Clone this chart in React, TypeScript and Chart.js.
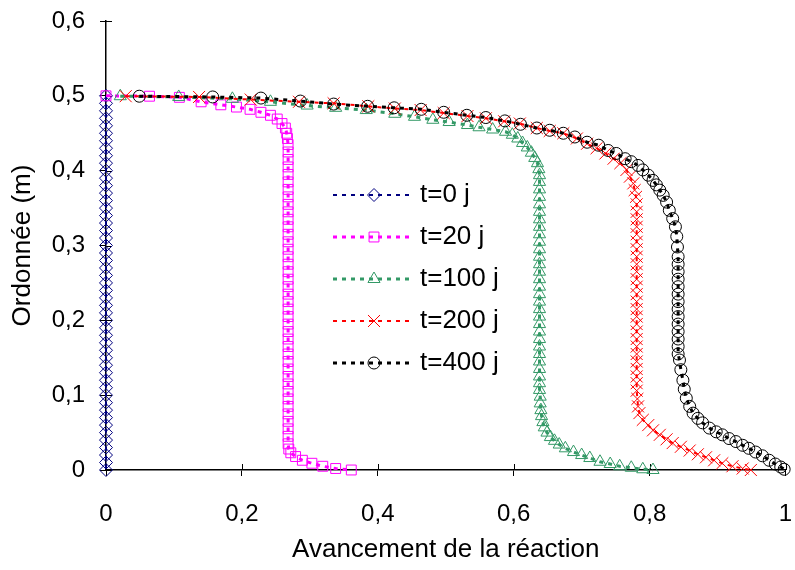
import React, { useEffect, useRef } from 'react';
import { Chart, registerables } from 'chart.js';
import { drawPoint } from 'chart.js/helpers';

Chart.register(...registerables);

// ---------- DATA ----------
const xTickLabels = ['0', '0,2', '0,4', '0,6', '0,8', '1'];
const yTickLabels = ['0', '0,1', '0,2', '0,3', '0,4', '0,5', '0,6'];
const seriesLabels = ['t=0 j', 't=20 j', 't=100 j', 't=200 j', 't=400 j'];
const xTitle = 'Avancement de la réaction';
const yTitle = 'Ordonnée (m)';

const t0Points: number[][] = [
  [0, 0.5], [0, 0.49], [0, 0.48], [0, 0.47], [0, 0.46], [0, 0.45], [0, 0.44], [0, 0.43], [0, 0.42], [0, 0.41],
  [0, 0.4], [0, 0.39], [0, 0.38], [0, 0.37], [0, 0.36], [0, 0.35], [0, 0.34], [0, 0.33], [0, 0.32], [0, 0.31],
  [0, 0.3], [0, 0.29], [0, 0.28], [0, 0.27], [0, 0.26], [0, 0.25], [0, 0.24], [0, 0.23], [0, 0.22], [0, 0.21],
  [0, 0.2], [0, 0.19], [0, 0.18], [0, 0.17], [0, 0.16], [0, 0.15], [0, 0.14], [0, 0.13], [0, 0.12], [0, 0.11],
  [0, 0.1], [0, 0.09], [0, 0.08], [0, 0.07], [0, 0.06], [0, 0.05], [0, 0.04], [0, 0.03], [0, 0.02], [0, 0.01],
  [0, 0],
];

const t20Points: number[][] = [
  [0, 0.5], [0.064, 0.4995], [0.108, 0.498], [0.14, 0.492], [0.169, 0.488], [0.192, 0.485], [0.212, 0.482],
  [0.228, 0.478], [0.242, 0.474], [0.252, 0.469], [0.259, 0.463], [0.264, 0.457], [0.266, 0.45], [0.267, 0.443],
  [0.268, 0.435], [0.268, 0.425], [0.268, 0.415], [0.268, 0.405], [0.268, 0.395], [0.268, 0.385], [0.268, 0.375],
  [0.268, 0.365], [0.268, 0.355], [0.268, 0.345], [0.268, 0.335], [0.268, 0.325], [0.268, 0.315], [0.268, 0.305],
  [0.268, 0.295], [0.268, 0.285], [0.268, 0.275], [0.268, 0.265], [0.268, 0.255], [0.268, 0.245], [0.268, 0.235],
  [0.268, 0.225], [0.268, 0.215], [0.268, 0.205], [0.268, 0.195], [0.268, 0.185], [0.268, 0.175], [0.268, 0.165],
  [0.268, 0.155], [0.268, 0.145], [0.268, 0.135], [0.268, 0.125], [0.268, 0.115], [0.268, 0.105], [0.268, 0.095],
  [0.268, 0.085], [0.268, 0.075], [0.268, 0.065], [0.268, 0.055], [0.268, 0.045], [0.268, 0.035],
  [0.269, 0.028], [0.272, 0.023], [0.279, 0.018], [0.289, 0.013], [0.303, 0.009], [0.319, 0.005], [0.338, 0.002],
  [0.361, 0],
];

const t100Points: number[][] = [
  [0.021, 0.4995], [0.107, 0.4985], [0.186, 0.496], [0.242, 0.492], [0.296, 0.487], [0.338, 0.484], [0.383, 0.481],
  [0.425, 0.476], [0.454, 0.472], [0.481, 0.468], [0.505, 0.465], [0.532, 0.461], [0.549, 0.458], [0.569, 0.455],
  [0.588, 0.452], [0.598, 0.448], [0.606, 0.443], [0.613, 0.437], [0.62, 0.431], [0.626, 0.424], [0.631, 0.417],
  [0.635, 0.41], [0.637, 0.402], [0.638, 0.394],
  [0.638, 0.385], [0.638, 0.375], [0.638, 0.365], [0.638, 0.355], [0.638, 0.345], [0.638, 0.335], [0.638, 0.325],
  [0.638, 0.315], [0.638, 0.305], [0.638, 0.295], [0.638, 0.285], [0.638, 0.275], [0.638, 0.265], [0.638, 0.255],
  [0.638, 0.245], [0.638, 0.235], [0.638, 0.225], [0.638, 0.215], [0.638, 0.205], [0.638, 0.195], [0.638, 0.185],
  [0.638, 0.175], [0.638, 0.165], [0.638, 0.155], [0.638, 0.145], [0.638, 0.135], [0.638, 0.125],
  [0.638, 0.116], [0.638, 0.107], [0.639, 0.098], [0.639, 0.089], [0.64, 0.08], [0.641, 0.072], [0.643, 0.064],
  [0.645, 0.057], [0.649, 0.05], [0.654, 0.044], [0.66, 0.039], [0.667, 0.034], [0.676, 0.029], [0.688, 0.024],
  [0.7, 0.02], [0.712, 0.016], [0.727, 0.011], [0.742, 0.008], [0.756, 0.005], [0.773, 0.003], [0.79, 0.001],
  [0.805, 0],
];

const t200Points: number[][] = [
  [0.029, 0.4995], [0.137, 0.4985], [0.213, 0.495], [0.284, 0.492], [0.335, 0.49], [0.386, 0.486], [0.425, 0.483],
  [0.463, 0.481], [0.497, 0.477], [0.532, 0.473], [0.559, 0.47], [0.586, 0.466], [0.609, 0.463], [0.634, 0.457],
  [0.653, 0.453], [0.673, 0.45], [0.693, 0.443], [0.708, 0.436], [0.722, 0.43], [0.735, 0.423], [0.747, 0.416],
  [0.757, 0.41], [0.766, 0.401], [0.771, 0.392], [0.776, 0.383], [0.778, 0.374], [0.78, 0.365],
  [0.781, 0.355], [0.781, 0.345], [0.781, 0.335], [0.781, 0.325], [0.781, 0.315], [0.781, 0.305], [0.781, 0.295],
  [0.781, 0.285], [0.781, 0.275], [0.781, 0.265], [0.781, 0.255], [0.781, 0.245], [0.781, 0.235], [0.781, 0.225],
  [0.781, 0.215], [0.781, 0.205], [0.781, 0.195], [0.781, 0.185], [0.781, 0.175], [0.781, 0.165], [0.781, 0.155],
  [0.781, 0.145], [0.781, 0.135], [0.781, 0.125],
  [0.781, 0.116], [0.781, 0.106], [0.782, 0.095], [0.783, 0.085], [0.785, 0.076], [0.79, 0.067], [0.798, 0.06],
  [0.805, 0.053], [0.815, 0.047], [0.825, 0.041], [0.834, 0.036], [0.846, 0.031], [0.859, 0.026], [0.871, 0.021],
  [0.883, 0.017], [0.895, 0.013], [0.907, 0.009], [0.922, 0.005], [0.937, 0.002], [0.949, 0],
];

const t400Points: number[][] = [
  [0.049, 0.4995], [0.157, 0.4985], [0.228, 0.497], [0.286, 0.493], [0.335, 0.489], [0.385, 0.486], [0.424, 0.484],
  [0.464, 0.482], [0.497, 0.478], [0.531, 0.474], [0.559, 0.471], [0.587, 0.4665], [0.61, 0.462], [0.634, 0.457],
  [0.653, 0.454], [0.673, 0.45], [0.69, 0.445], [0.708, 0.438], [0.725, 0.434], [0.739, 0.427], [0.751, 0.423],
  [0.764, 0.416], [0.773, 0.412], [0.783, 0.407], [0.79, 0.401], [0.798, 0.394], [0.805, 0.387], [0.81, 0.381],
  [0.815, 0.374], [0.82, 0.367], [0.825, 0.358], [0.829, 0.347], [0.834, 0.336], [0.838, 0.325], [0.84, 0.312],
  [0.841, 0.298], [0.842, 0.285],
  [0.842, 0.275], [0.842, 0.265], [0.842, 0.255], [0.842, 0.245], [0.842, 0.235], [0.842, 0.225], [0.842, 0.215],
  [0.842, 0.205], [0.842, 0.195], [0.842, 0.185], [0.842, 0.175], [0.842, 0.165], [0.842, 0.155],
  [0.844, 0.147], [0.846, 0.134], [0.849, 0.12], [0.851, 0.108], [0.854, 0.096], [0.859, 0.085], [0.864, 0.076],
  [0.871, 0.069], [0.878, 0.063], [0.888, 0.056], [0.898, 0.051], [0.907, 0.047], [0.917, 0.042], [0.927, 0.038],
  [0.937, 0.033], [0.946, 0.029], [0.956, 0.024], [0.966, 0.019], [0.976, 0.013], [0.985, 0.008], [0.993, 0.004],
  [0.998, 0.001],
];

const allSeries = [t0Points, t20Points, t100Points, t200Points, t400Points];

// ---------- STYLES ----------
const FONT = "'Liberation Sans', Arial, sans-serif";
const seriesStyles = [
  { color: '#000080', marker: 'rectRot', radius: 6.5, lineWidth: 2 },
  { color: '#FF00FF', marker: 'rect', radius: 7, lineWidth: 3 },
  { color: '#339966', marker: 'triangle', radius: 7, lineWidth: 3 },
  { color: '#FF0000', marker: 'crossRot', radius: 8.5, lineWidth: 2 },
  { color: '#000000', marker: 'circle', radius: 6, lineWidth: 3 },
];
const DASH = [4, 5];

const innerTicksPlugin = {
  id: 'innerTicks',
  beforeDatasetsDraw(chart: any) {
    const { ctx, chartArea, scales } = chart;
    ctx.save();
    ctx.strokeStyle = '#000';
    ctx.lineWidth = 1;
    scales.x.ticks.forEach((_t: any, i: number) => {
      const px = Math.round(scales.x.getPixelForTick(i)) + 0.5;
      ctx.beginPath();
      ctx.moveTo(px, chartArea.bottom);
      ctx.lineTo(px, chartArea.bottom - 6);
      ctx.stroke();
    });
    scales.y.ticks.forEach((_t: any, i: number) => {
      const py = Math.round(scales.y.getPixelForTick(i)) + 0.5;
      ctx.beginPath();
      ctx.moveTo(chartArea.left, py);
      ctx.lineTo(chartArea.left + 6, py);
      ctx.stroke();
    });
    ctx.restore();
  },
};

const legendPlugin = {
  id: 'customLegend',
  afterDraw(chart: any) {
    const { ctx } = chart;
    const rows = [195, 237, 279, 321, 363];
    const lineStart = 333;
    const lineEnd = 411;
    const markerX = 374;
    const textX = 420;
    ctx.save();
    seriesLabels.forEach((label, i) => {
      const st = seriesStyles[i];
      const y = rows[i];
      ctx.strokeStyle = st.color;
      ctx.lineWidth = st.lineWidth;
      ctx.setLineDash(DASH);
      ctx.beginPath();
      ctx.moveTo(lineStart, y);
      ctx.lineTo(lineEnd, y);
      ctx.stroke();
      ctx.setLineDash([]);
      ctx.lineWidth = 1;
      ctx.strokeStyle = st.color;
      ctx.fillStyle = 'rgba(0,0,0,0)';
      drawPoint(ctx, { pointStyle: st.marker, radius: st.radius, borderWidth: 1, rotation: 0 } as any, markerX, y);
      ctx.fillStyle = '#000';
      ctx.font = `26px ${FONT}`;
      ctx.textAlign = 'left';
      ctx.textBaseline = 'middle';
      ctx.fillText(label, textX, y);
    });
    ctx.restore();
  },
};

export default function App() {
  const canvasRef = useRef<HTMLCanvasElement | null>(null);

  useEffect(() => {
    const canvas = canvasRef.current;
    if (!canvas) return;
    const datasets = allSeries.map((pts, i) => {
      const st = seriesStyles[i];
      return {
        label: seriesLabels[i],
        data: pts.map(([x, y]) => ({ x, y })),
        showLine: true,
        borderColor: st.color,
        borderWidth: st.lineWidth,
        borderDash: DASH,
        backgroundColor: 'rgba(0,0,0,0)',
        pointStyle: st.marker,
        pointRadius: st.radius,
        pointBorderWidth: 1,
        pointBorderColor: st.color,
        pointBackgroundColor: 'rgba(0,0,0,0)',
        fill: false,
        tension: 0,
        clip: false,
        order: 5 - i,
      };
    });

    const chart = new Chart(canvas, {
      type: 'scatter',
      data: { datasets } as any,
      options: {
        animation: false,
        responsive: false,
        devicePixelRatio: 1,
        layout: { padding: { left: 0, right: 5, top: 21, bottom: 0 } },
        plugins: {
          legend: { display: false },
          tooltip: { enabled: false },
        },
        scales: {
          x: {
            type: 'linear',
            min: 0,
            max: 1,
            ticks: {
              stepSize: 0.2,
              autoSkip: false,
              maxRotation: 0,
              color: '#000',
              padding: 24,
              font: { family: FONT, size: 24 },
              callback: (_v: any, i: number) => xTickLabels[i],
            },
            grid: { drawOnChartArea: false, drawTicks: true, tickLength: 6, color: '#000', lineWidth: 1 },
            border: { display: true, color: '#000', width: 1.5 },
            title: {
              display: true,
              text: xTitle,
              color: '#000',
              font: { family: FONT, size: 26 },
              padding: { top: 0, bottom: 5 },
            },
            afterFit: (s: any) => {
              s.height = 100;
              s.paddingLeft = 0;
              s.paddingRight = 0;
            },
          },
          y: {
            type: 'linear',
            min: 0,
            max: 0.6,
            ticks: {
              stepSize: 0.1,
              autoSkip: false,
              color: '#000',
              padding: 15,
              font: { family: FONT, size: 24 },
              callback: (_v: any, i: number) => yTickLabels[i],
            },
            grid: { drawOnChartArea: false, drawTicks: true, tickLength: 6, color: '#000', lineWidth: 1 },
            border: { display: true, color: '#000', width: 1.5 },
            title: {
              display: true,
              text: yTitle,
              color: '#000',
              font: { family: FONT, size: 26 },
              padding: { top: 7, bottom: 0 },
            },
            afterFit: (s: any) => {
              s.width = 106;
              s.paddingTop = 0;
              s.paddingBottom = 0;
            },
          },
        },
      } as any,
      plugins: [innerTicksPlugin, legendPlugin],
    });
    return () => chart.destroy();
  }, []);

  return (
    <div style={{ position: 'absolute', left: 0, top: 0, width: 795, height: 570, background: '#fff' }}>
      <canvas ref={canvasRef} width={795} height={570} style={{ width: 795, height: 570, display: 'block' }} />
    </div>
  );
}
